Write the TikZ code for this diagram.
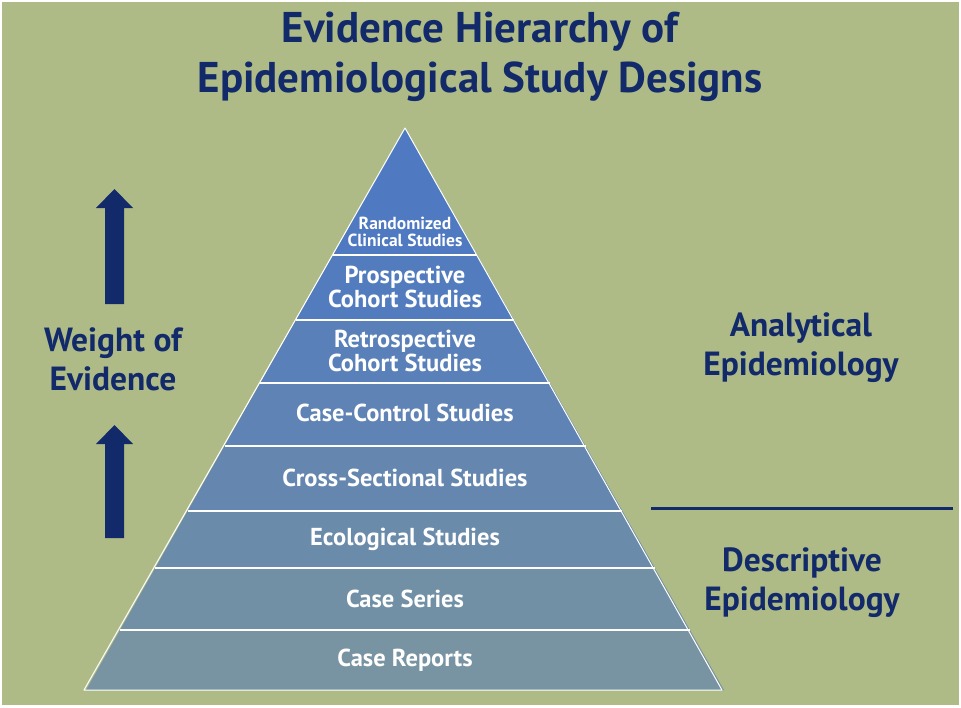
\documentclass[tikz,border=0pt]{standalone}
\usepackage{fontspec}
\setmainfont{PT Sans}
\usetikzlibrary{calc}

\definecolor{pagebg}{HTML}{AFBB86}
\definecolor{navy}{HTML}{12296A}
\definecolor{bandA}{HTML}{4F79C1}
\definecolor{bandB}{HTML}{537CBF}
\definecolor{bandC}{HTML}{5A80BA}
\definecolor{bandD}{HTML}{5F83B4}
\definecolor{bandE}{HTML}{6587AF}
\definecolor{bandF}{HTML}{6B8BAA}
\definecolor{bandG}{HTML}{7190A6}
\definecolor{bandH}{HTML}{7893A2}

\tikzset{
  headline/.style={font=\bfseries\fontsize{43}{50}\selectfont, text=navy, align=center},
  sidelabel/.style={font=\bfseries\fontsize{33.5}{39}\selectfont, text=navy, align=center},
  bandlabel/.style={font=\bfseries\fontsize{24.5}{22}\selectfont, text=white, align=center},
  smalllabel/.style={font=\bfseries\fontsize{17.5}{17}\selectfont, text=white, align=center},
  uparrow/.style={fill=navy},
  divider/.style={draw=white, line width=1.6pt},
}

\begin{document}
\begin{tikzpicture}[x=1pt,y=-1pt]
% page and background
\fill[white] (0,0) rectangle (961,707);
\fill[pagebg] (2,2) rectangle (959,705);
\useasboundingbox (0,0) rectangle (961,707);

% pyramid bands: apex (405,128), base from x=84 to x=722 at y=690
\foreach \ytop/\ybot/\col in {128/255/bandA, 255/320/bandB, 320/383/bandC,
    383/446/bandD, 446/511/bandE, 511/568/bandF, 568/630/bandG, 630/690/bandH} {
  \pgfmathsetmacro\xtl{405-(\ytop-128)*0.567616}
  \pgfmathsetmacro\xtr{405+(\ytop-128)*0.567616}
  \pgfmathsetmacro\xbl{405-(\ybot-128)*0.567616}
  \pgfmathsetmacro\xbr{405+(\ybot-128)*0.567616}
  \fill[\col] (\xtl,\ytop) -- (\xtr,\ytop) -- (\xbr,\ybot) -- (\xbl,\ybot) -- cycle;
}
% band separators
\foreach \ysep in {255,320,383,446,511,568,630} {
  \pgfmathsetmacro\xl{405-(\ysep-128)*0.567616}
  \pgfmathsetmacro\xr{405+(\ysep-128)*0.567616}
  \draw[divider] (\xl,\ysep) -- (\xr,\ysep);
}
% pyramid outline
\draw[white, line width=1pt, line join=round] (405,128) -- (722,690) -- (84,690) -- cycle;

% band labels
\node[smalllabel] (rct) at (405,232) {Randomized\\Clinical Studies};
\node[bandlabel] (pros) at (405,287) {Prospective\\Cohort Studies};
\node[bandlabel] (retro) at (405,351) {Retrospective\\Cohort Studies};
\node[bandlabel] (cc) at (405,413) {Case-Control Studies};
\node[bandlabel] (cs) at (405,478) {Cross-Sectional Studies};
\node[bandlabel] (eco) at (405,539) {Ecological Studies};
\node[bandlabel] (ser) at (405,599) {Case Series};
\node[bandlabel] (rep) at (405,660) {Case Reports};

% title
\node[headline] (title) at (480,57) {Evidence Hierarchy of\\Epidemiological Study Designs};

% side labels
\node[sidelabel] (weight) at (113,359) {Weight of\\Evidence};
\node[sidelabel] (analytic) at (801,348) {Analytical\\Epidemiology};
\node[sidelabel] (descr) at (802,583) {Descriptive\\Epidemiology};

% divider between the two kinds of epidemiology
\coordinate (divL) at (651,508);
\coordinate (divR) at (953,508);
\draw[navy, line width=3pt] (divL) -- (divR);

% block arrows
\fill[uparrow] (114.5,189) -- (133,208) -- (124,208) -- (124,304) -- (105,304) -- (105,208) -- (96,208) -- cycle;
\fill[uparrow] (114.5,425) -- (133,444) -- (124,444) -- (124,538) -- (105,538) -- (105,444) -- (96,444) -- cycle;
\end{tikzpicture}
\end{document}
